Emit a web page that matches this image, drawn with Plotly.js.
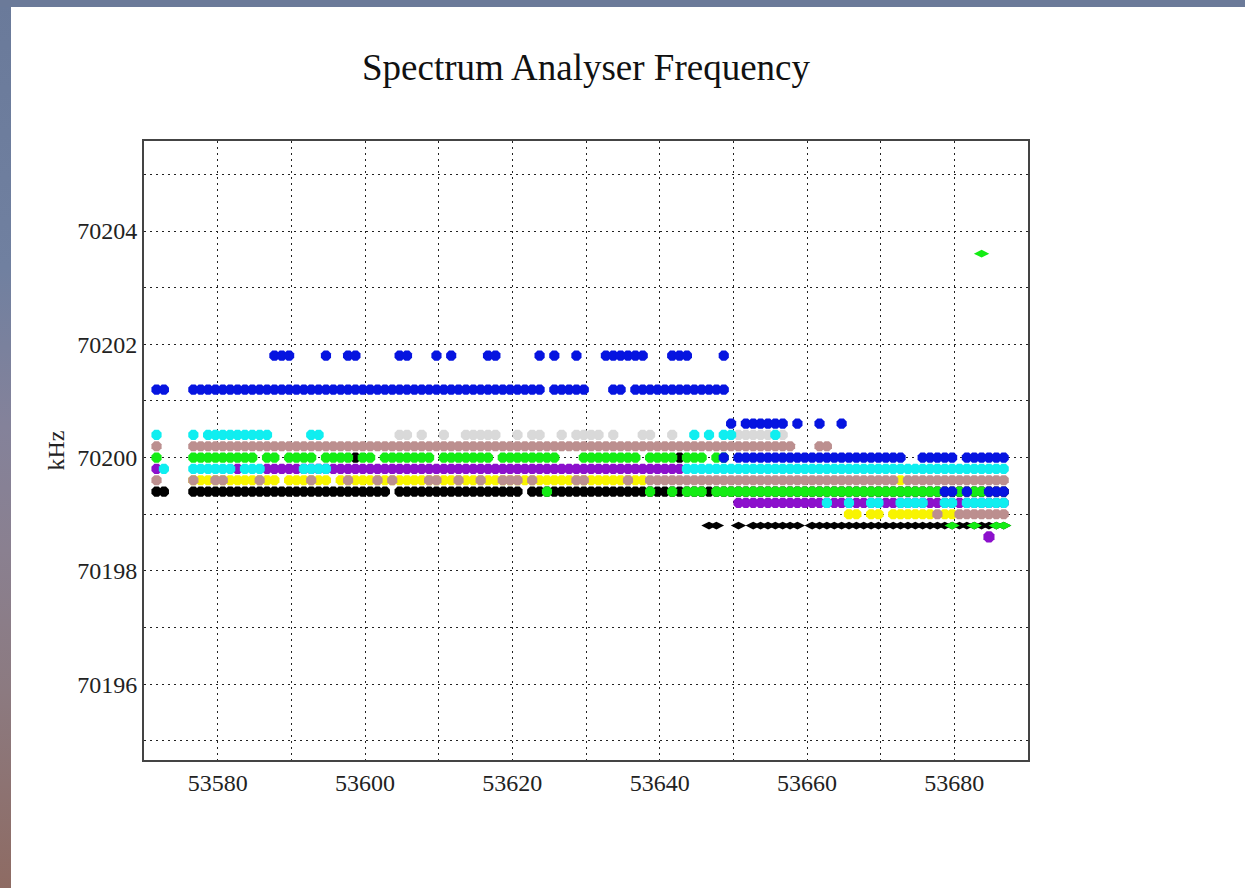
<!DOCTYPE html>
<html><head><meta charset="utf-8">
<script src="https://cdn.plot.ly/plotly-3.0.1.min.js"></script>
<style>
html,body{margin:0;padding:0;width:1245px;height:888px;overflow:hidden;}
body{position:relative;background:linear-gradient(to bottom,#6a7a9a 0%,#7080a0 30%,#84829a 48%,#8a8090 62%,#8c7a80 78%,#8e6b63 100%);}
#topband{position:absolute;left:0;top:0;width:1245px;height:7px;background:#6b7a99;}
#chart{position:absolute;left:11px;top:7px;width:1234px;height:881px;background:#ffffff;}
</style></head><body>
<div id="topband"></div><div id="chart"></div>
<script>
// ---- data: MJD (x) per series, frequency level in kHz ----
const chartTitle = 'Spectrum Analyser Frequency';
const yTitle = 'kHz';
const xTickVals = [53580, 53600, 53620, 53640, 53660, 53680];
const yTickVals = [70196, 70198, 70200, 70202, 70204];

const grayA_y = 70200.4;
const grayA_x = [53604.7,53605.7,53607.7,53610.7,53613.7,53614.7,53615.7,53616.7,53617.7,53620.7,53622.7,53623.7,53626.7,53628.7,53629.7,53630.7,53631.7,53633.7,53637.7,53638.7,53641.7,53650.7,53651.7,53652.7,53653.7,53654.7,53655.7,53656.7];

const cyanA_y = 70200.4;
const cyanA_x = [53571.7,53576.7,53578.7,53579.7,53580.7,53581.7,53582.7,53583.7,53584.7,53585.7,53586.7,53592.7,53593.7,53644.7,53646.7,53648.7,53649.7,53655.7];

const blueA_y = 70201.2;
const blueA_x = [53571.7,53572.7,
53576.7,53577.7,53578.7,53579.7,53580.7,53581.7,53582.7,53583.7,53584.7,53585.7,
53586.7,53587.7,53588.7,53589.7,53590.7,53591.7,53592.7,53593.7,53594.7,53595.7,
53596.7,53597.7,53598.7,53599.7,53600.7,53601.7,53602.7,53603.7,53604.7,53605.7,
53606.7,53607.7,53608.7,53609.7,53610.7,53611.7,53612.7,53613.7,53614.7,53615.7,
53616.7,53617.7,53618.7,53619.7,53620.7,53621.7,53622.7,53623.7,
53625.7,53626.7,53627.7,53628.7,53629.7,53633.7,53634.7,
53636.7,53637.7,53638.7,53639.7,53640.7,53641.7,53642.7,53643.7,53644.7,53645.7,53646.7,53647.7,53648.7];

const blueB_y = 70201.8;
const blueB_x = [53587.7,53588.7,53589.7,53594.7,53597.7,53598.7,53604.7,53605.7,53609.7,53611.7,53616.7,53617.7,53623.7,53625.7,53628.7,53632.7,53633.7,53634.7,53635.7,53636.7,53637.7,53641.7,53642.7,53643.7,53648.7];

const brownA_y = 70200.2;
const brownA_x = [53571.7,
53576.7,53577.7,53578.7,53579.7,53580.7,53581.7,53582.7,53583.7,53584.7,53585.7,
53586.7,53587.7,53588.7,53589.7,53590.7,53591.7,53592.7,53593.7,53594.7,53595.7,
53596.7,53597.7,53598.7,53599.7,53600.7,53601.7,53602.7,53603.7,53604.7,53605.7,
53606.7,53607.7,53608.7,53609.7,53610.7,53611.7,53612.7,53613.7,53614.7,53615.7,
53616.7,53617.7,53618.7,53619.7,53620.7,53621.7,53622.7,53623.7,53624.7,53625.7,
53626.7,53627.7,53628.7,53629.7,53630.7,53631.7,53632.7,53633.7,53634.7,53635.7,
53636.7,53637.7,53638.7,53639.7,53640.7,53641.7,53642.7,53643.7,53644.7,53645.7,
53646.7,53647.7,53648.7,53649.7,53650.7,53651.7,53652.7,53653.7,53654.7,53655.7,
53656.7,53657.7,53661.7,53662.7];

const blackA0_y = 70200.0;
const blackA0_x = [53598.7,53642.7];

const greenA_y = 70200.0;
const greenA_x = [53571.7,
53576.7,53577.7,53578.7,53579.7,53580.7,53581.7,53582.7,53583.7,53584.7,
53586.7,53587.7,53589.7,53590.7,53591.7,53592.7,53594.7,53595.7,53596.7,53597.7,
53599.7,53600.7,53602.7,53603.7,53604.7,53605.7,53606.7,53607.7,53608.7,
53610.7,53611.7,53612.7,53613.7,53614.7,53615.7,53616.7,
53618.7,53619.7,53620.7,53621.7,53622.7,53623.7,53624.7,53625.7,
53629.7,53630.7,53631.7,53632.7,53633.7,53634.7,53635.7,53636.7,
53638.7,53639.7,53640.7,53641.7,53643.7,53644.7,53645.7,53647.7,53648.7];

const blueC_y = 70200.6;
const blueC_x = [53649.7,53651.7,53652.7,53653.7,53654.7,53655.7,53656.7,53658.7,53661.7,53664.7];

const blueD_y = 70200.0;
const blueD_x = [53648.7,
53650.7,53651.7,53652.7,53653.7,53654.7,53655.7,53656.7,53657.7,53658.7,53659.7,
53660.7,53661.7,53662.7,53663.7,53664.7,53665.7,53666.7,53667.7,53668.7,53669.7,
53670.7,53671.7,53672.7,53675.7,53676.7,53677.7,53678.7,53679.7,
53681.7,53682.7,53683.7,53684.7,53685.7,53686.7];

const purpleA_y = 70199.8;
const purpleA_x = [53571.7,53582.7,
53586.7,53587.7,53588.7,53589.7,53590.7,53591.7,53592.7,53593.7,53594.7,53595.7,
53596.7,53597.7,53598.7,53599.7,53600.7,53601.7,53602.7,53603.7,53604.7,53605.7,
53606.7,53607.7,53608.7,53609.7,53610.7,53611.7,53612.7,53613.7,53614.7,53615.7,
53616.7,53617.7,53618.7,53619.7,53620.7,53621.7,53622.7,53623.7,53624.7,53625.7,
53626.7,53627.7,53628.7,53629.7,53630.7,53631.7,53632.7,53633.7,53634.7,53635.7,
53636.7,53637.7,53638.7,53639.7,53640.7,53641.7,53642.7];

const cyanB_y = 70199.8;
const cyanB_x = [53572.7,53576.7,53577.7,53578.7,53579.7,53580.7,53581.7,53583.7,53584.7,53585.7,
53591.7,53592.7,53593.7,53594.7,
53643.7,53644.7,53645.7,53646.7,53647.7,53648.7,53649.7,53650.7,53651.7,53652.7,
53653.7,53654.7,53655.7,53656.7,53657.7,53658.7,53659.7,53660.7,53661.7,53662.7,
53663.7,53664.7,53665.7,53666.7,53667.7,53668.7,53669.7,53670.7,53671.7,53672.7,
53673.7,53674.7,53675.7,53676.7,53677.7,53678.7,53679.7,53680.7,53681.7,53682.7,
53683.7,53684.7,53685.7,53686.7];

const yellowA_y = 70199.6;
const yellowA_x = [53576.7,53577.7,53578.7,53579.7,53580.7,53581.7,53582.7,53583.7,53584.7,53585.7,53586.7,53587.7,
53589.7,53590.7,53591.7,53592.7,53593.7,53594.7,
53596.7,53597.7,53598.7,53599.7,53600.7,53601.7,53602.7,53603.7,53604.7,53605.7,
53606.7,53607.7,53608.7,53609.7,53610.7,53611.7,53612.7,53613.7,53614.7,53615.7,
53616.7,53617.7,53618.7,53619.7,53620.7,53621.7,53622.7,53623.7,53624.7,53625.7,
53626.7,53627.7,53628.7,53629.7,53630.7,53631.7,53632.7,53633.7,53634.7,53635.7,
53636.7,53637.7,53672.7];

const brownB_y = 70199.6;
const brownB_x = [53571.7,53576.7,53579.7,53580.7,53585.7,53592.7,53597.7,53601.7,53603.7,53608.7,53609.7,53612.7,53615.7,53618.7,53619.7,53620.7,53622.7,53628.7,53629.7,53635.7,
53638.7,53639.7,53640.7,53641.7,53642.7,53643.7,53644.7,53645.7,53646.7,53647.7,
53648.7,53649.7,53650.7,53651.7,53652.7,53653.7,53654.7,53655.7,53656.7,53657.7,
53658.7,53659.7,53660.7,53661.7,53662.7,53663.7,53664.7,53665.7,53666.7,53667.7,
53668.7,53669.7,53670.7,53671.7,53673.7,53674.7,53675.7,53676.7,53677.7,53678.7,
53679.7,53680.7,53681.7,53682.7,53683.7,53684.7,53685.7,53686.7];

const blackA_y = 70199.4;
const blackA_x = [53571.7,53572.7,
53576.7,53577.7,53578.7,53579.7,53580.7,53581.7,53582.7,53583.7,53584.7,53585.7,
53586.7,53587.7,53588.7,53589.7,53590.7,53591.7,53592.7,53593.7,53594.7,53595.7,
53596.7,53597.7,53598.7,53599.7,53600.7,53601.7,53602.7,53604.7,53605.7,
53606.7,53607.7,53608.7,53609.7,53610.7,53611.7,53612.7,53613.7,53614.7,53615.7,
53616.7,53617.7,53618.7,53619.7,53620.7,53622.7,53623.7,53624.7,53625.7,
53626.7,53627.7,53628.7,53629.7,53630.7,53631.7,53632.7,53633.7,53634.7,53635.7,
53636.7,53637.7,53638.7,53639.7,53640.7,53641.7,53642.7,53643.7,53644.7,53645.7,
53646.7,53647.7,53648.7,53649.7,53650.7,53651.7,53652.7,53653.7,53654.7,53655.7,
53656.7,53657.7,53658.7,53659.7,53660.7,53661.7,53662.7,53663.7,53664.7,53665.7,
53666.7,53667.7,53668.7,53669.7,53670.7,53671.7,53672.7,53673.7,53674.7,53675.7,
53676.7,53677.7,53678.7,53679.7,53680.7,53681.7,53682.7,53683.7,53684.7,53685.7,53686.7];

const greenB_y = 70199.4;
const greenB_x = [53624.7,53638.7,53641.7,53643.7,53644.7,53645.7,
53647.7,53648.7,53649.7,53650.7,53651.7,53652.7,53653.7,53654.7,53655.7,
53656.7,53657.7,53658.7,53659.7,53660.7,53661.7,53662.7,53663.7,53664.7,53665.7,
53666.7,53667.7,53668.7,53669.7,53670.7,53671.7,53672.7,53673.7,53674.7,53675.7,
53676.7,53677.7,53680.7,53682.7,53683.7];

const blueE_y = 70199.4;
const blueE_x = [53678.7,53679.7,53681.7,53684.7,53685.7,53686.7];

const purpleB_y = 70199.2;
const purpleB_x = [53650.7,53651.7,53652.7,53653.7,53654.7,53655.7,
53656.7,53657.7,53658.7,53659.7,53660.7,53661.7,53662.7,53663.7,53664.7,53665.7,
53666.7,53667.7,53668.7,53669.7,53670.7,53671.7,53672.7,53673.7,53674.7,53675.7,
53676.7,53677.7,53678.7,53679.7,53680.7,53681.7,53682.7,53683.7,53684.7,53685.7,53686.7];

const cyanC_y = 70199.2;
const cyanC_x = [53662.7,53665.7,53668.7,53669.7,53672.7,53673.7,53674.7,53675.7,53678.7,53679.7,53681.7,53682.7,53683.7,53684.7,53685.7,53686.7];

const yellowB_y = 70199.0;
const yellowB_x = [53665.7,53666.7,53668.7,53669.7,53671.7,53672.7,53673.7,53674.7,53675.7,53676.7,53678.7,53679.7];

const brownC_y = 70199.0;
const brownC_x = [53677.7,53680.7,53681.7,53682.7,53683.7,53684.7,53685.7,53686.7];

const blackB_y = 70198.8;
const blackB_x = [53646.7,53647.7,53650.7,53652.7,53653.7,53654.7,53655.7,53656.7,53657.7,53658.7,
53660.7,53661.7,53662.7,53663.7,53664.7,53665.7,53666.7,53667.7,53668.7,53669.7,
53670.7,53671.7,53672.7,53673.7,53674.7,53675.7,53676.7,53677.7,53678.7,53679.7,
53680.7,53681.7,53682.7,53683.7,53684.7,53685.7,53686.7];

const greenC_y = 70198.8;
const greenC_x = [53679.7,53682.7,53685.7,53686.7];

const purpleC_y = 70198.6;
const purpleC_x = [53684.7];

const greenD_y = 70203.6;
const greenD_x = [53683.7];

// ---- styles ----
const C = {
  blue:'#0614e0', cyan:'#10eef0', brown:'#bc8f8f', green:'#14ec14',
  purple:'#8c10cc', yellow:'#f8f400', black:'#000000', gray:'#d9d9d9'
};

function series(x, level, color, symbol, size) {
  return {
    type:'scatter', mode:'markers', x:x, y:x.map(() => level),
    marker:{color:color, size:size || 11, symbol:symbol || 'octagon', line:{width:0}},
    hoverinfo:'skip', showlegend:false, cliponaxis:true
  };
}

const traces = [
  series(grayA_x, grayA_y, C.gray),
  series(cyanA_x, cyanA_y, C.cyan),
  series(blueA_x, blueA_y, C.blue),
  series(blueB_x, blueB_y, C.blue),
  series(brownA_x, brownA_y, C.brown),
  series(blackA0_x, blackA0_y, C.black),
  series(greenA_x, greenA_y, C.green),
  series(blueC_x, blueC_y, C.blue),
  series(blueD_x, blueD_y, C.blue),
  series(purpleA_x, purpleA_y, C.purple),
  series(cyanB_x, cyanB_y, C.cyan),
  series(yellowA_x, yellowA_y, C.yellow),
  series(brownB_x, brownB_y, C.brown),
  series(blackA_x, blackA_y, C.black),
  series(greenB_x, greenB_y, C.green),
  series(blueE_x, blueE_y, C.blue),
  series(purpleB_x, purpleB_y, C.purple),
  series(cyanC_x, cyanC_y, C.cyan),
  series(yellowB_x, yellowB_y, C.yellow),
  series(brownC_x, brownC_y, C.brown),
  series(blackB_x, blackB_y, C.black, 'diamond-wide', 11),
  series(greenC_x, greenC_y, C.green, 'diamond-wide', 11),
  series(purpleC_x, purpleC_y, C.purple, 'octagon', 12),
  series(greenD_x, greenD_y, C.green, 'diamond-wide', 11)
];

const serif = 'Liberation Serif, Times New Roman, serif';
const gridDash = '2px,4px';
const gridCol = '#222222';

const layout = {
  width:1234, height:881,
  margin:{l:132.5, r:217.3, t:134, b:128, pad:0},
  paper_bgcolor:'#ffffff', plot_bgcolor:'#ffffff',
  showlegend:false,
  title:{text:chartTitle, font:{family:serif, size:37, color:'#111111'},
         x:0.5, xref:'paper', y:0.932, yref:'container', yanchor:'middle'},
  xaxis:{
    range:[53570, 53690], tickmode:'array', tickvals:xTickVals, tickformat:'d',
    ticks:'', showline:true, mirror:true, linecolor:'#444444', linewidth:2,
    showgrid:true, gridcolor:gridCol, griddash:gridDash, gridwidth:1,
    minor:{dtick:10, tick0:53580, showgrid:true, gridcolor:gridCol, griddash:gridDash, gridwidth:1},
    zeroline:false, tickfont:{family:serif, size:24, color:'#222222'}
  },
  yaxis:{
    range:[70194.66, 70205.59], tickmode:'array', tickvals:yTickVals, tickformat:'d',
    ticks:'', showline:true, mirror:true, linecolor:'#444444', linewidth:2,
    showgrid:true, gridcolor:gridCol, griddash:gridDash, gridwidth:1,
    minor:{dtick:1, tick0:70196, showgrid:true, gridcolor:gridCol, griddash:gridDash, gridwidth:1},
    zeroline:false, tickfont:{family:serif, size:24, color:'#222222'},
    title:{text:yTitle, font:{family:serif, size:24, color:'#222222'}, standoff:6}
  }
};

Plotly.newPlot('chart', traces, layout, {displayModeBar:false, staticPlot:true});
</script></body></html>
